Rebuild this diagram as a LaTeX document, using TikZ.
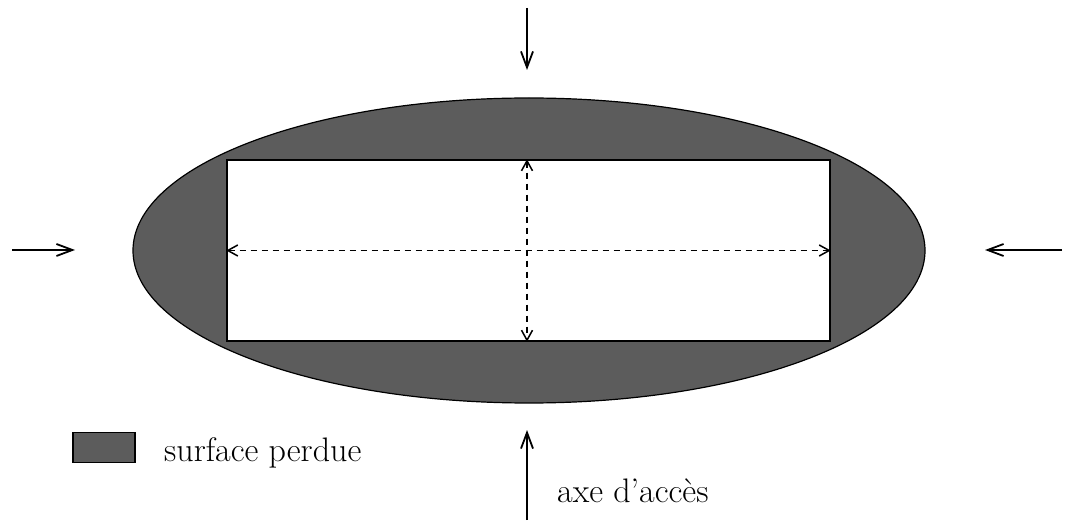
\documentclass[tikz,border=0pt]{standalone}
\usetikzlibrary{arrows.meta,shapes.geometric}
\begin{document}
\begin{tikzpicture}[x=1pt,y=-1pt,
  lost/.style={fill=black!64,draw=black,line width=1.2pt},
  axis/.style={line width=1.8pt,-{Straight Barb[length=16pt,width=12pt,line width=1.8pt]}},
  inner/.style={line width=1.4pt,dash pattern=on 6pt off 5pt,{Straight Barb[length=10pt,width=11pt,line width=1.5pt]}-{Straight Barb[length=10pt,width=11pt,line width=1.5pt]}},
  lbl/.style={font=\fontsize{34}{41}\selectfont,inner sep=0pt,anchor=west}]
\useasboundingbox (0,0) rectangle (1066,521);
\node[lost,ellipse,minimum width=792pt,minimum height=305pt,inner sep=0pt] (ell) at (529,250.5) {};
\node[draw=black,fill=white,line width=1.5pt,minimum width=603pt,minimum height=181pt,inner sep=0pt] (rect) at (528.5,250.5) {};
\coordinate (lt) at (12,250);
\coordinate (lh) at (75,250);
\coordinate (rt) at (1062,250);
\coordinate (rh) at (985,250);
\coordinate (tt) at (527,8);
\coordinate (th) at (527,70);
\coordinate (bt) at (527,520);
\coordinate (bh) at (527,430);
\draw[axis] (lt) -- (lh);
\draw[axis] (rt) -- (rh);
\draw[axis] (tt) -- (th);
\draw[axis] (bt) -- (bh);
\draw[inner] (rect.west) -- (rect.east);
\draw[inner] (rect.north -| tt) -- (rect.south -| tt);
\node[lost,minimum width=62pt,minimum height=30pt,inner sep=0pt] (leg) at (104,447.5) {};
\node[lbl] (legtxt) at (164,453) {surface perdue};
\node[lbl] (axtxt) at (557,491) {axe d'accès};
\end{tikzpicture}
\end{document}
